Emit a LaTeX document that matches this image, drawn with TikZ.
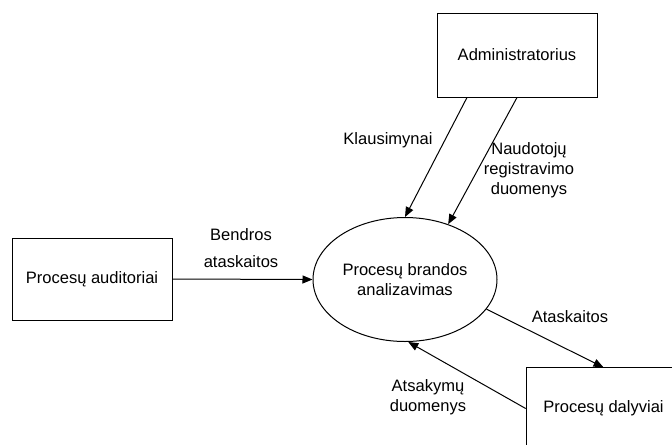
\documentclass[tikz,border=0pt]{standalone}
\usepackage{fontspec}
\setmainfont{Liberation Sans}
\usetikzlibrary{positioning,arrows.meta,shapes.geometric}

\begin{document}
\begin{tikzpicture}[
      x=0.75pt,y=-0.75pt,
      entity/.style={draw=black,line width=0.75pt,fill=white,inner sep=2pt,
                  font=\fontsize{12.4}{15}\selectfont,align=center},
      proc/.style={draw=black,line width=0.75pt,ellipse,inner sep=0pt,
                  minimum width=138pt,minimum height=93pt,
                  font=\fontsize{12.4}{15.5}\selectfont,align=center},
      flow/.style={font=\fontsize{12.4}{15}\selectfont,align=center,inner sep=0pt},
      arr/.style={-{Triangle[length=7.5pt,width=6pt]},line width=0.75pt,black}]
    \useasboundingbox (0,0) rectangle (672,444);
    \clip (0,0) rectangle (672,444);
    \node[entity,minimum width=120pt,minimum height=63pt] (adm) at (517,55) {Administratorius};
    \node[entity,minimum width=120pt,minimum height=61.5pt] (aud) at (92,279) {Procesų auditoriai};
    \node[proc] (pba) at (405,279.5) {Procesų brandos\\analizavimas};
    \node[entity,minimum width=116pt,minimum height=61pt] (dal) at (603.5,408.5) {Procesų dalyviai};
    \draw[arr] ([xshift=-37.5pt]adm.south) -- (pba.north);
    \draw[arr] (adm.south) -- (pba.52);
    \draw[arr] (aud.east) -- (pba.west);
    \draw[arr] (pba.-20) -- (dal.north);
    \draw[arr] (dal.west) -- (pba.-87);
    \node[flow] (klaus) at (388,140) {Klausimynai};
    \node[flow] (naud) at (529,170) {Naudotojų\\registravimo\\duomenys};
    \node[flow,align=center] (bendr) at (241,248) {Bendros\\[5pt]ataskaitos};
    \node[flow] (atask) at (570,317) {Ataskaitos};
    \node[flow] (atsak) at (428,397) {Atsakymų\\duomenys};
\end{tikzpicture}
\end{document}
